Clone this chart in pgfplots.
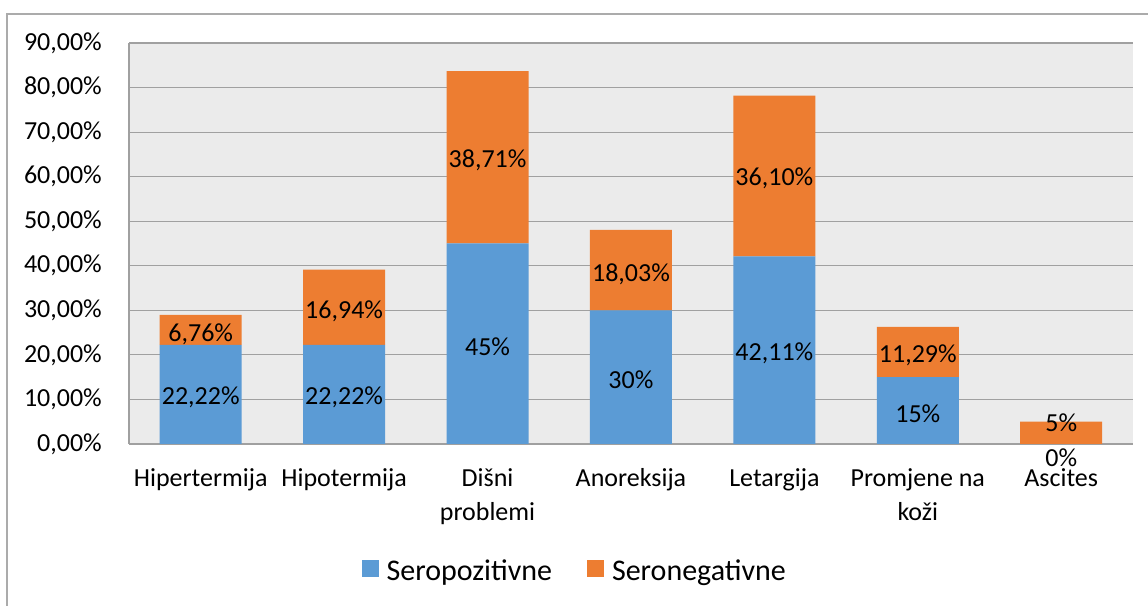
\documentclass[border=0pt]{standalone}
\usepackage{fontspec}
\setmainfont{Carlito}
\usepackage{pgfplots}
\pgfplotsset{compat=1.18}
\definecolor{sblue}{HTML}{5B9BD5}
\definecolor{sorange}{HTML}{ED7D31}
\definecolor{plotbg}{HTML}{EBEBEB}
\definecolor{gridc}{HTML}{A0A0A0}
\definecolor{framec}{HTML}{ABABAB}
\newcommand\tickfont{\fontsize{26bp}{34bp}\selectfont}
\newcommand\legfont{\fontsize{30bp}{36bp}\selectfont}
\pgfplotsset{sqlegend/.style={legend image code/.code={\fill[##1] (0bp,-6bp) rectangle (17bp,11bp);}}}
\begin{document}
\begin{tikzpicture}[x=1bp,y=1bp]
\path[use as bounding box, fill=white] (0,0) rectangle (1148,606);
\draw[framec, line width=1.5bp] (7,-2) -- (7,592) -- (1150,592);
\begin{axis}[
  at={(129bp,162bp)}, anchor=south west,
  scale only axis, width=1004bp, height=401bp,
  xmin=-0.5, xmax=6.5, ymin=0, ymax=90,
  ybar stacked, bar width=82bp,
  axis background/.style={fill=plotbg},
  axis x line*=bottom, axis y line*=left,
  axis line style={gridc, line width=1.2bp},
  ymajorgrids, major grid style={gridc, line width=1.2bp},
  major tick length=0pt,
  xtick={0,...,6},
  xticklabels={Hipertermija, Hipotermija, {Dišni\\problemi}, Anoreksija, Letargija, {Promjene na\\koži}, Ascites},
  ytick={0,10,...,90},
  yticklabels={{0,00\%},{10,00\%},{20,00\%},{30,00\%},{40,00\%},{50,00\%},{60,00\%},{70,00\%},{80,00\%},{90,00\%}},
  tick label style={font=\tickfont, text=black},
  xticklabel style={align=center, anchor=north, inner sep=0pt, yshift=-24bp},
  yticklabel style={anchor=east, inner sep=0pt, xshift=-27bp},
  legend style={at={(0.444,-0.3167)}, anchor=center, draw=none, fill=none,
    font=\legfont, legend columns=2,
    /tikz/every odd column/.append style={column sep=6bp},
    /tikz/every even column/.append style={column sep=33bp}},
  legend cell align=left,
]
\addplot[fill=sblue, draw=none, sqlegend]
  coordinates {(0,22.22) (1,22.22) (2,45) (3,30) (4,42.11) (5,15) (6,0)};
\addplot[fill=sorange, draw=none, sqlegend]
  coordinates {(0,6.76) (1,16.94) (2,38.71) (3,18.03) (4,36.10) (5,11.29) (6,5)};
\legend{Seropozitivne, Seronegativne}
\end{axis}
\begin{axis}[
  at={(129bp,162bp)}, anchor=south west,
  scale only axis, width=1004bp, height=401bp,
  xmin=-0.5, xmax=6.5, ymin=0, ymax=90,
  hide axis, clip=false,
]
\addplot[only marks, mark=none, nodes near coords={\pgfplotspointmeta\%},
  point meta=explicit symbolic,
  every node near coord/.style={anchor=center, inner sep=0pt, yshift=-3bp, font=\tickfont, text=black}]
  table[meta=lab] {
x y lab
0 11.11 22,22
0 25.3 6,76
1 11.11 22,22
1 30.4 16,94
2 22.5 45
2 64.35 38,71
3 15 30
3 38.8 18,03
4 21.05 42,11
4 60.2 36,10
5 7.5 15
5 20.6 11,29
6 5.4 5
6 -2.5 0
};
\end{axis}
\end{tikzpicture}
\end{document}
